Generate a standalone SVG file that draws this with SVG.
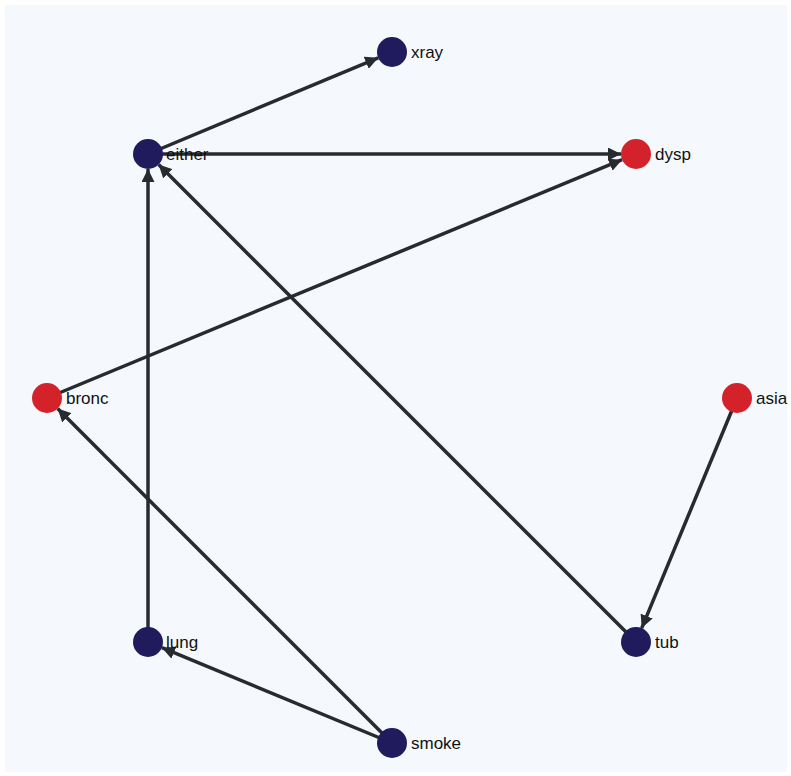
<svg xmlns="http://www.w3.org/2000/svg" width="791" height="776" viewBox="0 0 791 776">
<style>
.edge{stroke:#272b30;stroke-width:3.5;fill:none;marker-end:url(#arr)}
.blue{fill:#1f1b5c}
.red{fill:#d3222a}
.lbl{font-family:"Liberation Sans",Arial,sans-serif;font-size:17px;fill:#111111;dominant-baseline:central}
</style>
<defs>
<marker id="arr" markerUnits="userSpaceOnUse" markerWidth="15" markerHeight="13" refX="13" refY="6.5" orient="auto">
<path d="M0,0 L13,6.5 L0,13 Z" fill="#272b30"/>
</marker>
</defs>
<rect x="0" y="0" width="791" height="776" fill="#ffffff"/>
<rect x="5" y="5" width="782" height="767" fill="#f5f9fd"/>
<g id="connectors">
<line class="edge" x1="148" y1="154" x2="378.2" y2="57.8"/>
<line class="edge" x1="148" y1="154" x2="621" y2="154"/>
<line class="edge" x1="47" y1="398" x2="622.1" y2="159.7"/>
<line class="edge" x1="148" y1="642" x2="148" y2="169"/>
<line class="edge" x1="636" y1="642" x2="158.6" y2="164.6"/>
<line class="edge" x1="392" y1="743" x2="57.6" y2="408.6"/>
<line class="edge" x1="392" y1="743" x2="161.9" y2="647.7"/>
<line class="edge" x1="737" y1="398" x2="641.7" y2="628.1"/>
</g>
<g id="xray"><circle class="blue" cx="392" cy="52" r="15"/><text class="lbl" x="411" y="52">xray</text></g>
<g id="either"><circle class="blue" cx="148" cy="154" r="15"/><text class="lbl" x="166" y="154">either</text></g>
<g id="dysp"><circle class="red" cx="636" cy="154" r="15"/><text class="lbl" x="655" y="154">dysp</text></g>
<g id="bronc"><circle class="red" cx="47" cy="398" r="15"/><text class="lbl" x="66" y="398">bronc</text></g>
<g id="asia"><circle class="red" cx="737" cy="398" r="15"/><text class="lbl" x="756" y="398">asia</text></g>
<g id="lung"><circle class="blue" cx="148" cy="642" r="15"/><text class="lbl" x="166" y="642">lung</text></g>
<g id="tub"><circle class="blue" cx="636" cy="642" r="15"/><text class="lbl" x="655" y="642">tub</text></g>
<g id="smoke"><circle class="blue" cx="392" cy="743" r="15"/><text class="lbl" x="411" y="743">smoke</text></g>
</svg>
